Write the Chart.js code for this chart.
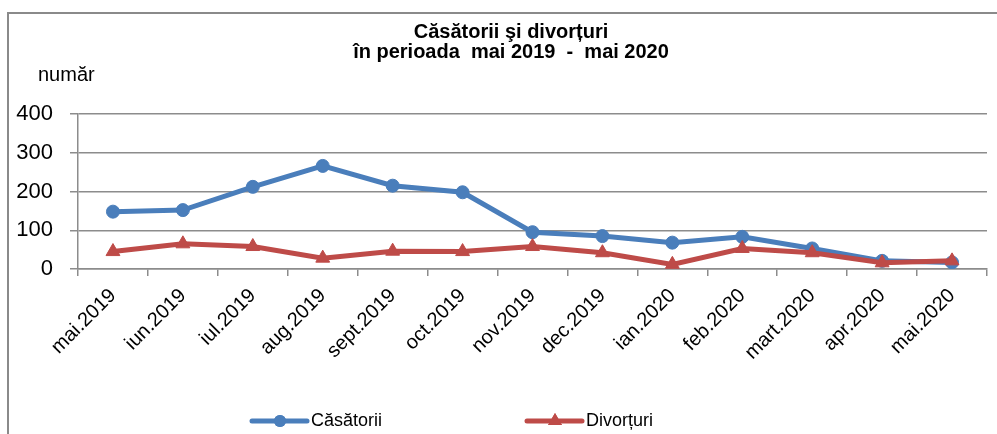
<!DOCTYPE html>
<html>
<head>
<meta charset="utf-8">
<script src="https://cdn.jsdelivr.net/npm/chart.js@4/dist/chart.umd.min.js"></script>
<style>
  html, body { margin: 0; padding: 0; background: #fff; }
  #wrap { width: 997px; height: 434px; position: relative; }
</style>
</head>
<body>
<div id="wrap"><canvas id="chart" width="997" height="434"></canvas></div>
<script>
const months = ["mai.2019", "iun.2019", "iul.2019", "aug.2019", "sept.2019", "oct.2019", "nov.2019",
                "dec.2019", "ian.2020", "feb.2020", "mart.2020", "apr.2020", "mai.2020"];
const casatorii = [148, 152, 212, 266, 215, 198, 95, 85, 68, 83, 53, 21, 17];
const divorturi = [45, 65, 58, 28, 46, 45, 58, 42, 12, 53, 42, 16, 21];
const yTicks = [0, 100, 200, 300, 400];
const titleLines = ["Căsătorii şi divorțuri", "în perioada  mai 2019  -  mai 2020"];

const FONT = "'Liberation Sans', Arial, sans-serif";
const BLUE = "#4A7EBB";
const RED = "#BE4B48";
const GRID = "#8c8c8c";

// frame, title, "număr" label and the legend at the bottom
const extras = {
    id: "extras",
    beforeDraw(chart) {
        const ctx = chart.ctx;
        ctx.save();
        ctx.fillStyle = "#fff";
        ctx.fillRect(0, 0, chart.width, chart.height);
        ctx.strokeStyle = "#8a8a8a";
        ctx.lineWidth = 2;
        ctx.strokeRect(8, 13, 1000, 440);
        ctx.restore();
    },
    afterDraw(chart) {
        const ctx = chart.ctx;
        ctx.save();
        ctx.fillStyle = "#000";
        ctx.textBaseline = "middle";
        ctx.textAlign = "center";
        ctx.font = "bold 20px " + FONT;
        titleLines.forEach((t, i) => ctx.fillText(t, 511, 32 + i * 20));

        ctx.textAlign = "left";
        ctx.font = "20px " + FONT;
        ctx.fillText("număr", 38, 75);

        const items = [
            { x: 252, text: "Căsătorii", color: BLUE, style: "circle" },
            { x: 527, text: "Divorțuri", color: RED, style: "triangle" }
        ];
        const y = 421;
        items.forEach(it => {
            ctx.strokeStyle = it.color;
            ctx.lineWidth = 5;
            ctx.lineCap = "round";
            ctx.beginPath();
            ctx.moveTo(it.x, y);
            ctx.lineTo(it.x + 55, y);
            ctx.stroke();
            ctx.fillStyle = it.color;
            Chart.helpers.drawPoint(ctx, { pointStyle: it.style, radius: it.style === "circle" ? 6 : 8, rotation: 0, borderWidth: 0 }, it.x + 28, y);
            ctx.fill();
            ctx.fillStyle = "#000";
            ctx.font = "18px " + FONT;
            ctx.fillText(it.text, it.x + 59, y);
        });
        ctx.restore();
    }
};

new Chart(document.getElementById("chart").getContext("2d"), {
    type: "line",
    data: {
        labels: months,
        datasets: [{
            label: "Căsătorii",
            data: casatorii,
            borderColor: BLUE,
            backgroundColor: BLUE,
            borderWidth: 5,
            pointStyle: "circle",
            pointRadius: 6.5,
            pointBorderWidth: 1,
            tension: 0,
            order: 1
        }, {
            label: "Divorțuri",
            data: divorturi,
            borderColor: RED,
            backgroundColor: RED,
            borderWidth: 5,
            pointStyle: "triangle",
            pointRadius: 8,
            pointBorderWidth: 1,
            tension: 0,
            order: 0
        }]
    },
    options: {
        responsive: false,
        animation: false,
        layout: { padding: { left: 10, right: 10, top: 114, bottom: 0 } },
        plugins: {
            legend: { display: false },
            tooltip: { enabled: false },
            title: { display: false }
        },
        scales: {
            x: {
                offset: true,
                grid: { offset: true, drawOnChartArea: false, tickLength: 7, color: GRID, lineWidth: 1.5 },
                border: { color: GRID, width: 1.5 },
                ticks: { autoSkip: false, minRotation: 45, maxRotation: 45, color: "#000", font: { family: FONT, size: 20 }, padding: 8 },
                afterFit: s => { s.height = 165; }
            },
            y: {
                min: 0,
                max: 400,
                afterBuildTicks: s => { s.ticks = yTicks.map(v => ({ value: v })); },
                grid: { color: GRID, lineWidth: 1.5, tickLength: 8 },
                border: { color: GRID, width: 1.5 },
                ticks: { color: "#000", font: { family: FONT, size: 22 }, padding: 17 },
                afterFit: s => { s.width = 68; }
            }
        }
    },
    plugins: [extras]
});
</script>
</body>
</html>
